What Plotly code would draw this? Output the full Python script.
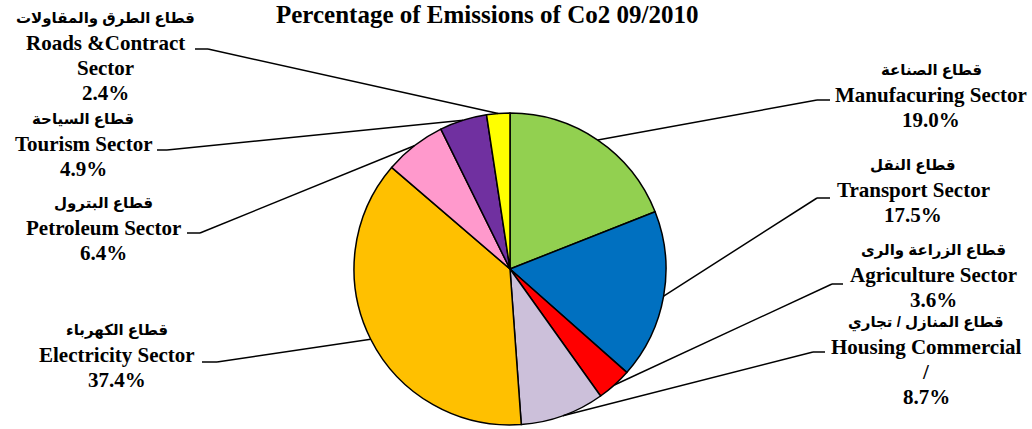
import math
import plotly.graph_objects as go

# ---------------- data ----------------
sectors_ar = ["قطاع الصناعة", "قطاع النقل", "قطاع الزراعة والرى", "قطاع المنازل / تجاري",
              "قطاع الكهرباء", "قطاع البترول", "قطاع السياحة", "قطاع الطرق والمقاولات"]
sectors_en = [["Manufacuring Sector"], ["Transport Sector"], ["Agriculture Sector"],
              ["Housing Commercial", "/"], ["Electricity Sector"], ["Petroleum Sector"],
              ["Tourism Sector"], ["Roads &Contract", "Sector"]]
values = [19.0, 17.5, 3.6, 8.7, 37.4, 6.4, 4.9, 2.4]
colors = ["#92D050", "#0070C0", "#FF0000", "#CCC0DA", "#FFC000", "#FF99CC", "#7030A0", "#FFFF00"]
title = "Percentage of Emissions of Co2 09/2010"

# ---------------- layout ----------------
W, H = 1032, 429
CX, CY, R = 510, 269, 156
# label block: (center x, y of first line, side, tick y, tick x start, tick x end)
label_layout = [
    (931, 70, "r", 100, 817, 830),
    (913, 165, "r", 198, 817, 830),
    (933, 250, "r", 284, 832, 843),
    (926, 322, "r", 352, 813, 825),
    (117, 330, "l", 362, 202, 217),
    (103, 203, "l", 233, 187, 200),
    (83, 119, "l", 150, 157, 167),
    (105, 18, "l", 49, 195, 208),
]
LINE = 25

serif = dict(family="Times New Roman, Liberation Serif, serif", size=21, color="black", weight="bold")
sans = dict(family="Arial, Liberation Sans, DejaVu Sans, sans-serif", size=15, color="black", weight="bold")

fig = go.Figure()
fig.add_trace(go.Pie(
    values=values, labels=[e[0] for e in sectors_en], sort=False, direction="clockwise", rotation=0,
    marker=dict(colors=colors, line=dict(color="black", width=1.5)),
    textinfo="none", hoverinfo="label+percent", showlegend=False,
    domain=dict(x=[(CX - R) / W, (CX + R) / W], y=[(H - CY - R) / H, (H - CY + R) / H]),
))
# invisible scatter to activate pixel-space axes
fig.add_trace(go.Scatter(x=[0, W], y=[0, H], mode="markers", marker=dict(opacity=0), hoverinfo="skip", showlegend=False))

total = sum(values)
cum = 0.0
shapes, annots = [], []
for i, v in enumerate(values):
    mid = (cum + v / 2) / total * 2 * math.pi
    cum += v
    ex, ey = CX + R * math.sin(mid), CY - R * math.cos(mid)
    bx, by, side, ty, tx0, tx1 = label_layout[i]
    near = tx1 if side == "l" else tx0
    far = tx0 if side == "l" else tx1
    shapes.append(dict(type="line", x0=far, y0=ty, x1=near, y1=ty, xref="x", yref="y", line=dict(color="black", width=1.5)))
    shapes.append(dict(type="line", x0=near, y0=ty, x1=ex, y1=ey, xref="x", yref="y", line=dict(color="black", width=1.5)))
    lines = [(sectors_ar[i], sans)] + [(t, serif) for t in sectors_en[i]] + [(f"{v:.1f}%", serif)]
    for k, (t, f) in enumerate(lines):
        annots.append(dict(x=bx, y=by + k * LINE, xref="x", yref="y", text=t, showarrow=False,
                           xanchor="center", yanchor="middle", font=f))

annots.append(dict(x=487 / W, y=1, xref="paper", yref="paper", text=title, showarrow=False,
                   xanchor="center", yanchor="top", borderpad=0,
                   font=dict(family="Times New Roman, Liberation Serif, serif", size=25, color="black", weight="bold")))

fig.update_layout(
    width=W, height=H, margin=dict(l=0, r=0, t=0, b=0),
    paper_bgcolor="white", plot_bgcolor="rgba(0,0,0,0)",
    xaxis=dict(range=[0, W], visible=False, fixedrange=True),
    yaxis=dict(range=[H, 0], visible=False, fixedrange=True),
    shapes=shapes, annotations=annots,
)
fig.write_html("out.html", config={"displayModeBar": False},
               post_script="document.body.style.margin='0';document.body.style.overflow='hidden';")
